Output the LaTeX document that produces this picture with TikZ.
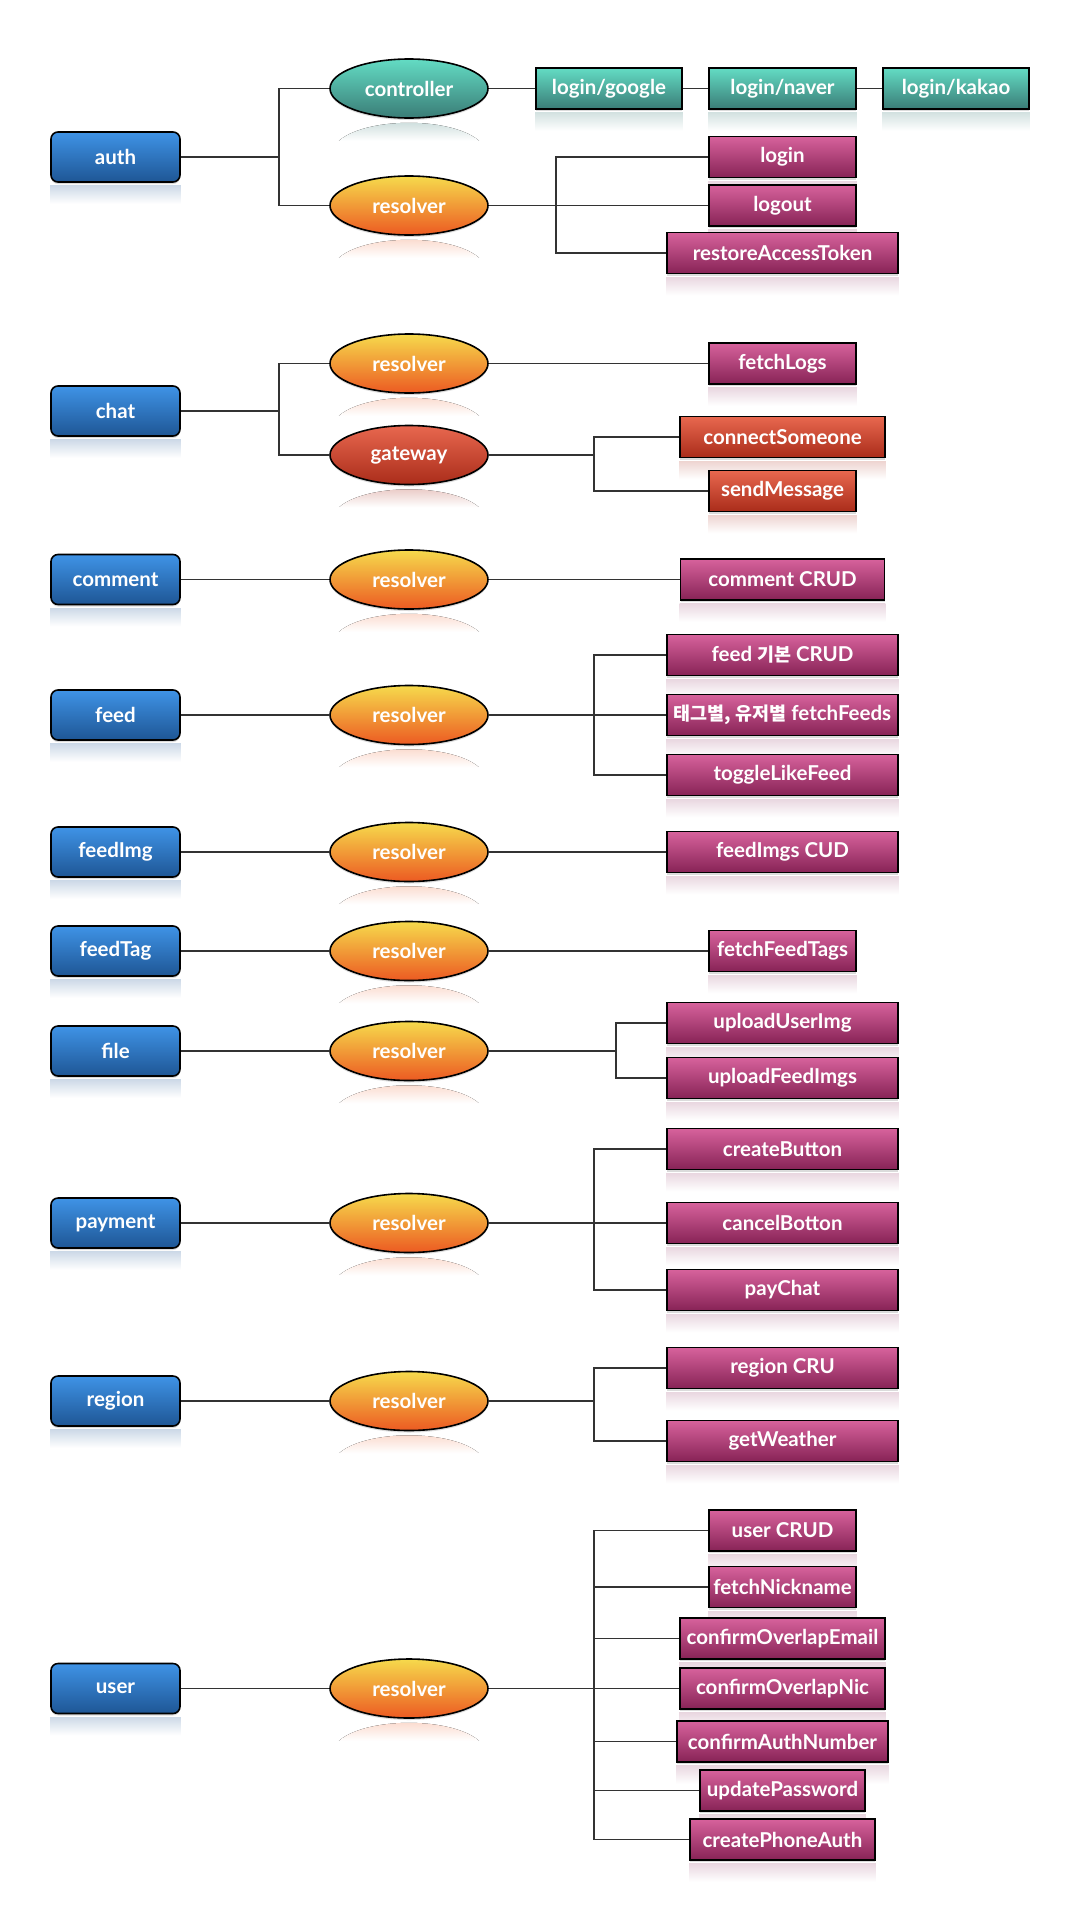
\documentclass[tikz,border=0pt]{standalone}
\usepackage{fontspec}
\setmainfont{Lato}
\newfontfamily\kr{Noto Sans CJK KR}[Scale=0.9]
\usetikzlibrary{shapes.geometric,shadows,backgrounds}
\definecolor{blueT}{HTML}{3F93E6}
\definecolor{blueB}{HTML}{1E5695}
\definecolor{tealT}{HTML}{63DCC4}
\definecolor{tealB}{HTML}{3A7C76}
\definecolor{orT}{HTML}{F6DA4C}
\definecolor{orM}{HTML}{F09A3A}
\definecolor{orB}{HTML}{EC5A22}
\definecolor{gwT}{HTML}{E8684F}
\definecolor{gwB}{HTML}{AA2C1A}
\definecolor{pkT}{HTML}{D7629C}
\definecolor{pkB}{HTML}{872356}
\tikzset{
  every node/.style={font=\fontsize{20.5}{24}\selectfont\bfseries, text=white},
  nd/.style={draw=black, line width=1.6pt, inner sep=0pt,
    drop shadow={shadow xshift=0pt, shadow yshift=-2pt, opacity=0.28}},
  mod/.style={nd, rectangle, rounded corners=7pt, minimum width=129pt, minimum height=50pt,
    top color=blueT, bottom color=blueB},
  ell/.style={nd, ellipse, minimum width=158pt, minimum height=59pt},
  ctl/.style={ell, top color=tealT, bottom color=tealB},
  res/.style={ell, top color=orT, middle color=orM, bottom color=orB},
  gw/.style={ell, top color=gwT, bottom color=gwB},
  tbox/.style={nd, rectangle, minimum height=41pt, top color=tealT, bottom color=tealB},
  pbox/.style={nd, rectangle, minimum height=41pt, top color=pkT, bottom color=pkB},
  rbox/.style={nd, rectangle, minimum height=41pt, top color=gwT, bottom color=gwB},
  link/.style={draw=black!80, line width=1.2pt},
}
\newcommand\reflR[2][black!14]{\fill[top color=#1, bottom color=white]
  ([yshift=-3pt]#2.south west) rectangle ([yshift=-21pt]#2.south east);}
\newcommand\reflE[2][black!14]{\begin{scope}
  \clip ([yshift=-33.5pt]#2.south) ellipse [x radius=76pt, y radius=29.5pt];
  \fill[top color=#1, bottom color=white]
  ([xshift=-80pt,yshift=-3pt]#2.south) rectangle ([xshift=80pt,yshift=-22pt]#2.south);
  \end{scope}}
\begin{document}
\begin{tikzpicture}[x=1pt,y=-1pt]
\useasboundingbox (0,0) rectangle (1080,1920);
% ---------- auth
\node[mod] (auth) at (115.5,157) {auth};
\node[ctl] (actl) at (409,88.5) {controller};
\node[res] (ares) at (409,205.5) {resolver};
\node[tbox, minimum width=146pt] (google) at (609,88.5) {login/google};
\node[tbox, minimum width=147pt] (naver) at (782.5,88.5) {login/naver};
\node[tbox, minimum width=146pt] (kakao) at (956,88.5) {login/kakao};
\node[pbox, minimum width=147pt] (login) at (782.5,157) {login};
\node[pbox, minimum width=147pt] (logout) at (782.5,205.5) {logout};
\node[pbox, minimum width=231pt] (restore) at (782.5,253) {restoreAccessToken};
% ---------- chat
\node[mod] (chat) at (115.5,411) {chat};
\node[res] (cres) at (409,363.5) {resolver};
\node[gw] (cgw) at (409,455) {gateway};
\node[pbox, minimum width=147pt] (logs) at (782.5,363.5) {fetchLogs};
\node[rbox, minimum width=205pt] (connect) at (782.5,437) {connectSomeone};
\node[rbox, minimum width=147pt] (send) at (782.5,491) {sendMessage};
% ---------- comment
\node[mod] (comment) at (115.5,579.5) {comment};
\node[res] (mres) at (409,579.5) {resolver};
\node[pbox, minimum width=204pt] (mcrud) at (782.5,579.5) {comment CRUD};
% ---------- feed
\node[mod] (feed) at (115.5,715) {feed};
\node[res] (fres) at (409,715) {resolver};
\node[pbox, minimum width=231pt] (f1) at (782.5,655) {feed {\kr 기본} CRUD};
\node[pbox, minimum width=231pt] (f2) at (782.5,715) {{\kr 태그별, 유저별} fetchFeeds};
\node[pbox, minimum width=231pt] (f3) at (782.5,775) {toggleLikeFeed};
% ---------- feedImg
\node[mod] (feedImg) at (115.5,852) {feedImg};
\node[res] (ires) at (409,852) {resolver};
\node[pbox, minimum width=231pt] (img) at (782.5,852) {feedImgs CUD};
% ---------- feedTag
\node[mod] (feedTag) at (115.5,951) {feedTag};
\node[res] (tres) at (409,951) {resolver};
\node[pbox, minimum width=147pt] (tags) at (782.5,951) {fetchFeedTags};
% ---------- file
\node[mod] (file) at (115.5,1051) {file};
\node[res] (fileres) at (409,1051) {resolver};
\node[pbox, minimum width=231pt] (up1) at (782.5,1023) {uploadUserImg};
\node[pbox, minimum width=231pt] (up2) at (782.5,1078) {uploadFeedImgs};
% ---------- payment
\node[mod] (payment) at (115.5,1223) {payment};
\node[res] (pres) at (409,1223) {resolver};
\node[pbox, minimum width=231pt] (pay1) at (782.5,1149) {createButton};
\node[pbox, minimum width=231pt] (pay2) at (782.5,1223) {cancelBotton};
\node[pbox, minimum width=231pt] (pay3) at (782.5,1290) {payChat};
% ---------- region
\node[mod] (region) at (115.5,1401) {region};
\node[res] (rres) at (409,1401) {resolver};
\node[pbox, minimum width=231pt] (reg1) at (782.5,1368) {region CRU};
\node[pbox, minimum width=231pt] (reg2) at (782.5,1441) {getWeather};
% ---------- user
\node[mod] (user) at (115.5,1688.5) {user};
\node[res] (ures) at (409,1688.5) {resolver};
\node[pbox, minimum width=147pt] (u1) at (782.5,1530.5) {user CRUD};
\node[pbox, minimum width=147pt] (u2) at (782.5,1587) {fetchNickname};
\node[pbox, minimum width=205pt] (u3) at (782.5,1638.5) {confirmOverlapEmail};
\node[pbox, minimum width=205pt] (u4) at (782.5,1688.5) {confirmOverlapNic};
\node[pbox, minimum width=211pt] (u5) at (782.5,1741.5) {confirmAuthNumber};
\node[pbox, minimum width=165pt] (u6) at (782.5,1790.5) {updatePassword};
\node[pbox, minimum width=185pt] (u7) at (782.5,1839.5) {createPhoneAuth};
% ---------- junctions
\coordinate (jA) at (279,157);
\coordinate (bA) at (556,205.5);
\coordinate (jC) at (279,411);
\coordinate (bC) at (594,455);
\coordinate (bF) at (594,715);
\coordinate (bFi) at (616,1051);
\coordinate (bP) at (594,1223);
\coordinate (bR) at (594,1401);
\coordinate (bU) at (594,1688.5);
% ---------- connectors
\draw[link] (auth.east) -- (jA);
\draw[link] (actl.west) -| (jA) |- (ares.west);
\draw[link] (actl.east) -- (google.west);
\draw[link] (google.east) -- (naver.west);
\draw[link] (naver.east) -- (kakao.west);
\draw[link] (ares.east) -- (logout.west);
\draw[link] (login.west) -| (bA) |- (restore.west);
\draw[link] (chat.east) -- (jC);
\draw[link] (cres.west) -| (jC) |- (cgw.west);
\draw[link] (cres.east) -- (logs.west);
\draw[link] (cgw.east) -- (bC);
\draw[link] (connect.west) -| (bC) |- (send.west);
\draw[link] (comment.east) -- (mres.west);
\draw[link] (mres.east) -- (mcrud.west);
\draw[link] (feed.east) -- (fres.west);
\draw[link] (fres.east) -- (f2.west);
\draw[link] (f1.west) -| (bF) |- (f3.west);
\draw[link] (feedImg.east) -- (ires.west);
\draw[link] (ires.east) -- (img.west);
\draw[link] (feedTag.east) -- (tres.west);
\draw[link] (tres.east) -- (tags.west);
\draw[link] (file.east) -- (fileres.west);
\draw[link] (fileres.east) -- (bFi);
\draw[link] (up1.west) -| (bFi) |- (up2.west);
\draw[link] (payment.east) -- (pres.west);
\draw[link] (pres.east) -- (pay2.west);
\draw[link] (pay1.west) -| (bP) |- (pay3.west);
\draw[link] (region.east) -- (rres.west);
\draw[link] (rres.east) -- (bR);
\draw[link] (reg1.west) -| (bR) |- (reg2.west);
\draw[link] (user.east) -- (ures.west);
\draw[link] (ures.east) -- (u4.west);
\draw[link] (u1.west) -| (bU) |- (u7.west);
\draw[link] (u2.west) -- (u2.west -| bU);
\draw[link] (u3.west) -- (u3.west -| bU);
\draw[link] (u5.west) -- (u5.west -| bU);
\draw[link] (u6.west) -- (u6.west -| bU);
% ---------- reflections (background)
\begin{scope}[on background layer]
\fill[white] (0,0) rectangle (1080,1920);
\foreach \n in {auth,chat,comment,feed,feedImg,feedTag,file,payment,region,user}{\reflR[blueB!22]{\n}}
\reflE[tealB!25]{actl}
\foreach \n in {ares,cres,mres,fres,ires,tres,fileres,pres,rres,ures}{\reflE[orB!22]{\n}}
\reflE[gwB!25]{cgw}
\foreach \n in {google,naver,kakao}{\reflR[tealB!22]{\n}}
\foreach \n in {login,logout,restore,logs,mcrud,f1,f2,f3,img,tags,up1,up2,pay1,pay2,pay3,reg1,reg2,u1,u2,u3,u4,u5,u6,u7}{\reflR[pkB!18]{\n}}
\foreach \n in {connect,send}{\reflR[gwB!20]{\n}}
\end{scope}
\end{tikzpicture}
\end{document}
